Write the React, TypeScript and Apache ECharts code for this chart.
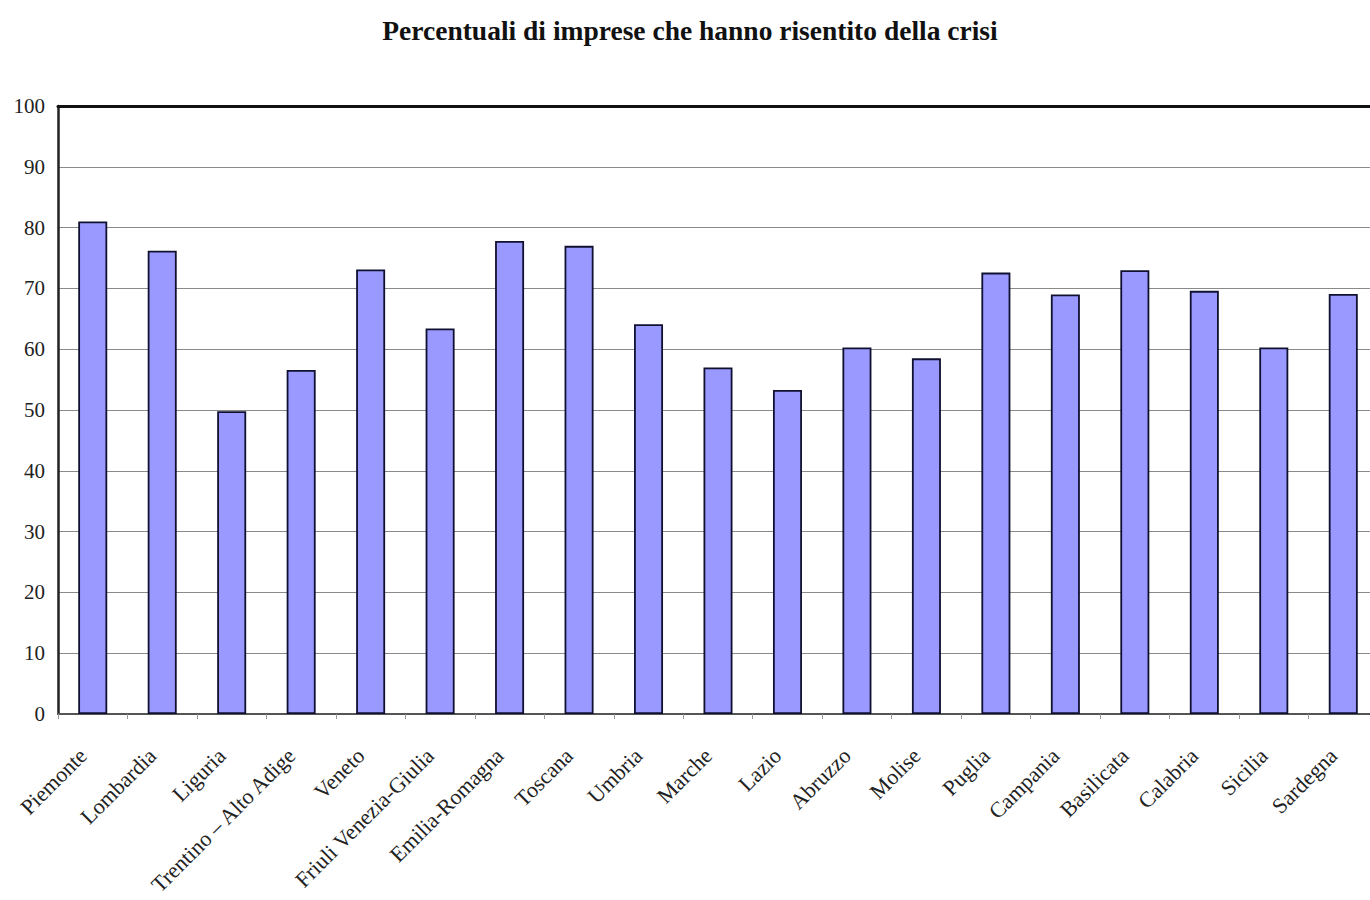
import React, { useEffect, useRef } from "react";
import * as echarts from "echarts";

const regions = [
  "Piemonte", "Lombardia", "Liguria", "Trentino – Alto Adige", "Veneto",
  "Friuli Venezia-Giulia", "Emilia-Romagna", "Toscana", "Umbria", "Marche",
  "Lazio", "Abruzzo", "Molise", "Puglia", "Campania", "Basilicata",
  "Calabria", "Sicilia", "Sardegna",
];

const percentages = [
  81.0, 76.2, 49.8, 56.6, 73.1, 63.4, 77.8, 77.0, 64.1, 57.0,
  53.3, 60.3, 58.5, 72.6, 69.0, 73.0, 69.6, 60.3, 69.1,
];

const titleText = "Percentuali di imprese che hanno risentito della crisi";

const SERIF = "'Liberation Serif', 'Times New Roman', serif";

export default function App() {
  const ref = useRef<HTMLDivElement>(null);

  useEffect(() => {
    document.body.style.margin = "0";
    document.body.style.overflow = "hidden";
    const chart = echarts.init(ref.current!, null, { renderer: "svg" });
    chart.setOption({
      animation: false,
      backgroundColor: "#ffffff",
      title: {
        text: titleText,
        left: 685,
        textAlign: "center",
        top: 11,
        textStyle: {
          fontFamily: SERIF,
          fontWeight: "bold",
          fontSize: 27.5,
          color: "#111",
        },
      },
      // the canvas is a little wider than the page, so the plot's right edge is cut off
      grid: { left: 58, right: 0, top: 106, bottom: 185, containLabel: false },
      xAxis: [
        {
          type: "category",
          data: regions,
          axisLine: { show: true, lineStyle: { color: "#555", width: 2 } },
          axisTick: { show: true, length: 5, lineStyle: { color: "#999", width: 1 } },
          axisLabel: {
            rotate: 45,
            margin: 28,
            padding: [0, 14, 0, 0],
            interval: 0,
            fontFamily: SERIF,
            fontSize: 22,
            color: "#222",
          },
        },
        {
          type: "category",
          position: "top",
          data: regions,
          axisLine: { show: true, lineStyle: { color: "#111", width: 3 } },
          axisTick: { show: false },
          axisLabel: { show: false },
        },
      ],
      yAxis: {
        type: "value",
        min: 0,
        max: 100,
        interval: 10,
        axisLine: { show: true, lineStyle: { color: "#222", width: 2.5 } },
        axisTick: { show: false },
        axisLabel: {
          margin: 13,
          fontFamily: SERIF,
          fontSize: 21,
          color: "#222",
        },
        splitLine: { show: true, lineStyle: { color: "#8a8a8a", width: 1.2 } },
      },
      series: [
        {
          type: "bar",
          data: percentages,
          barWidth: 29,
          itemStyle: {
            color: "#9999ff",
            borderColor: "#101030",
            borderWidth: 1.8,
          },
        },
      ],
    });
    return () => chart.dispose();
  }, []);

  return <div ref={ref} style={{ width: 1378, height: 900 }} />;
}
